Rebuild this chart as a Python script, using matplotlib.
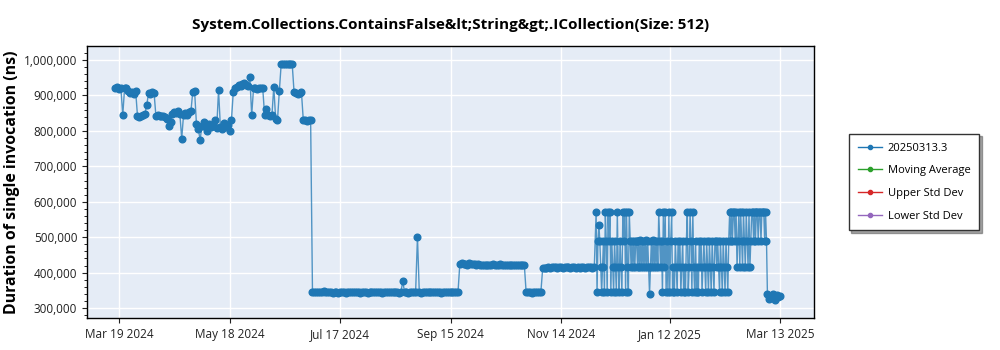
import matplotlib
matplotlib.use("Agg")
import matplotlib.pyplot as plt
import matplotlib.ticker as mticker
import pandas as pd
import numpy as np

plt.rcParams['font.family'] = ['Open Sans', 'DejaVu Sans']

# daily runs, Mar 17 - Jul 1 2024 (high plateau), values in microseconds
start_a = "2024-03-17"
vals_a = [922, 925, 918, 920, 845, 921, 920, 912, 908, 910, 905, 912, 842, 840, 843, 845, 848, 872, 907, 905, 910, 907,
          842, 845, 842, 843, 841, 840, 835, 815, 825, 848, 852, 850, 855, 848, 778, 845, 850, 845, 852, 855, 910, 912,
          820, 805, 775, 815, 825, 810, 800, 820, 812, 818, 830, 808, 915, 812, 805, 822, 810, 818, 800, 830, 910,
          920, 925, 930, 928, 932, 935, 930, 928, 952, 845, 920, 922, 918, 920, 920, 920, 845, 862, 845, 842, 845,
          925, 835, 830, 912, 988, 990, 988, 990, 988, 990, 988, 910, 908, 905, 908, 910, 832, 830, 828, 832, 830]

# daily runs, Jul 2 - Sep 19 2024 (low plateau)
start_b = "2024-07-02"
vals_b = [345, 344, 346, 345, 344, 346, 347, 345, 344, 346,
          345, 343, 344, 345, 343, 344, 345, 344, 343, 345,
          344, 345, 344, 346, 345, 344, 343, 345, 346, 344,
          343, 345, 344, 345, 344, 346, 345, 344, 343, 345,
          344, 345, 346, 344, 345, 344, 345, 343, 344,
          376,
          345, 344, 343, 345, 344, 345, 346,
          501,
          344, 343, 345, 344, 345, 344, 346, 345, 344, 346, 345,
          344, 343, 345, 344, 346, 345, 344, 345, 346, 345, 344]

# daily runs, Sep 20 - Dec 2 2024
start_c = "2024-09-20"
vals_c = [425, 426, 424, 425, 423, 426, 425, 424, 424, 423,
          424, 423, 422, 423, 422, 423, 422, 422, 424, 423,
          422, 423, 424, 422, 423, 422, 423, 422, 421, 422,
          423, 422, 421, 422, 422, 423,
          345, 344, 346, 343, 345, 344, 346, 344, 345,
          413, 414, 414, 415, 414, 416, 415, 415, 414, 416,
          415, 414, 415, 416, 415, 414, 415, 416, 414, 415,
          414, 416, 415, 414, 415, 416, 415, 414, 415]

# twice-daily runs, Dec 3 2024 - Mar 5 2025 (unstable period)
start_d = "2024-12-03"
vals_d = [570, 345, 490, 535, 490, 415, 345, 415, 490, 345,
          570, 490, 345, 570, 490, 570, 345, 490, 415, 345,
          490, 415, 345, 570, 415, 345, 490, 415, 345, 570,
          490, 570, 345, 570, 415, 345, 570, 490, 415, 490,
          415, 490, 415, 490, 490, 415, 490, 415, 492, 415,
          490, 415, 490, 415, 492, 415, 490, 415, 340, 415,
          490, 415, 492, 415, 490, 415, 490, 415, 570, 490,
          415, 490, 345, 570, 415, 570, 345, 490, 345, 570,
          345, 490, 570, 345, 415, 345, 490, 415, 345, 490,
          415, 490, 345, 415, 490, 345, 415, 345, 490, 570,
          345, 415, 570, 490, 345, 570, 415, 345, 490, 345,
          415, 345, 490, 415, 490, 345, 415, 490, 415, 345,
          490, 415, 345, 490, 415, 345, 490, 415, 345, 490,
          490, 415, 490, 415, 345, 490,
          415, 345, 490, 415, 345, 490, 415, 345, 490, 570,
          490, 572, 490, 570, 572, 490, 570, 415, 490, 572,
          415, 570, 490, 415, 572, 490, 415, 570, 490, 415,
          572, 415, 490, 570, 572, 490, 570, 490, 572, 570,
          490, 572, 570, 490, 570, 570, 572, 490, 570, 490]

# daily runs, Mar 6 - Mar 13 2025
start_e = "2025-03-06"
vals_e = [340, 325, 335, 340, 322, 338, 330, 335]

dates = (pd.date_range(start_a, periods=len(vals_a), freq="D")
         .append(pd.date_range(start_b, periods=len(vals_b), freq="D"))
         .append(pd.date_range(start_c, periods=len(vals_c), freq="D"))
         .append(pd.date_range(start_d, periods=len(vals_d), freq="12h"))
         .append(pd.date_range(start_e, periods=len(vals_e), freq="D")))
values = np.array(vals_a + vals_b + vals_c + vals_d + vals_e) * 1000

tick_dates = pd.to_datetime(["2024-03-19", "2024-05-18", "2024-07-17", "2024-09-15",
                             "2024-11-14", "2025-01-12", "2025-03-13"])
tick_labels = [d.strftime("%b %d %Y") for d in tick_dates]

blue = "#1f77b4"

fig = plt.figure(figsize=(10, 3.5), dpi=100)
ax = fig.add_axes([0.087, 0.0914, 0.727, 0.777])
ax.set_facecolor("#e5ecf6")

ax.plot(dates, values, color=blue, lw=1, alpha=0.75)
ax.plot(dates, values, ls="none", marker="o", ms=4.8, color=blue)

# legend entries
ax.plot([], [], color=blue, lw=1, marker="o", ms=3, label="20250313.3")
ax.plot([], [], color="#2ca02c", lw=1, marker="o", ms=3, label="Moving Average")
ax.plot([], [], color="#d62728", lw=1, marker="o", ms=3, label="Upper Std Dev")
ax.plot([], [], color="#9467bd", lw=1, marker="o", ms=3, label="Lower Std Dev")

ax.set_xlim(pd.Timestamp("2024-03-01 14:00"), pd.Timestamp("2025-03-31 07:00"))
ax.set_ylim(272000, 1039500)
ax.set_xticks(tick_dates)
ax.set_xticklabels(tick_labels)
ax.yaxis.set_major_locator(mticker.MultipleLocator(100000))
ax.yaxis.set_minor_locator(mticker.AutoMinorLocator(5))
ax.yaxis.set_major_formatter(mticker.FuncFormatter(lambda v, p: f"{int(v):,}"))
ax.tick_params(labelsize=8.5, colors="#222222")
ax.tick_params(axis="y", which="minor", length=2)
ax.grid(True, color="white", lw=1)
ax.set_axisbelow(True)
for s in ax.spines.values():
    s.set_color("black")
    s.set_linewidth(1)

ax.set_ylabel("Duration of single invocation (ns)", fontsize=11.4, fontweight="bold")
ax.yaxis.set_label_coords(-0.092, 0.5)
ax.set_title("System.Collections.ContainsFalse&lt;String&gt;.ICollection(Size: 512)",
             fontsize=11, fontweight="bold", pad=12)

leg = ax.legend(loc="center left", bbox_to_anchor=(1.04, 0.5), fontsize=8,
                fancybox=False, shadow=True, edgecolor="#333333", framealpha=1,
                handlelength=2.2, handletextpad=0.5, borderpad=0.8, labelspacing=1.05)

fig.savefig("out.png", dpi=100)
